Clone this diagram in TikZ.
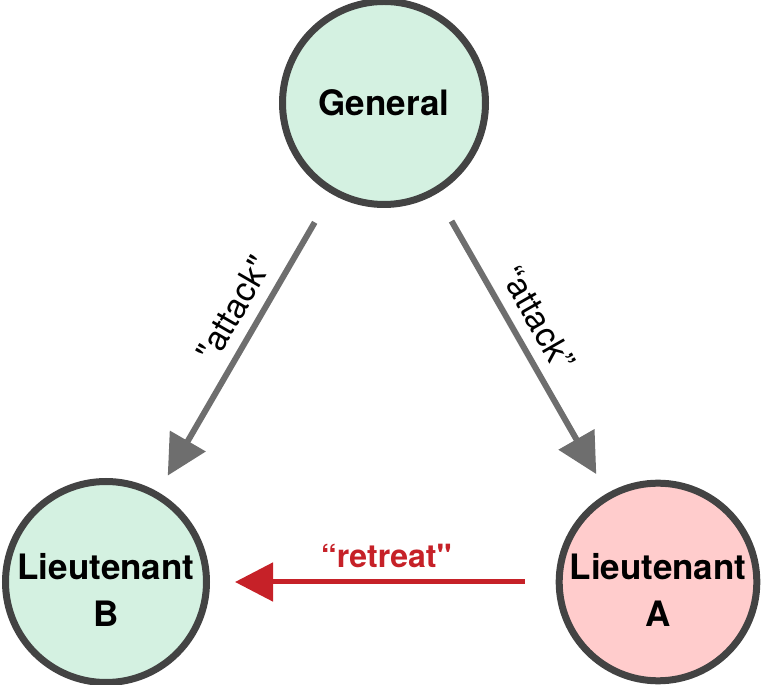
\documentclass[tikz,border=0pt]{standalone}
\usepackage{fontspec}
\setmainfont{TeX Gyre Heros}[Ligatures=TeXOff]
\usetikzlibrary{arrows.meta}

\definecolor{loyalgreen}{HTML}{D4F1E1}
\definecolor{traitorpink}{HTML}{FFCCCC}
\definecolor{ringgray}{HTML}{434343}
\definecolor{ordergray}{HTML}{6E6E6E}
\definecolor{lierred}{HTML}{C62128}

\begin{document}
\begin{tikzpicture}[x=1pt,y=1pt,
  officer/.style={circle,draw=ringgray,line width=7pt,inner sep=0pt,
    align=center,font=\fontsize{35}{47}\selectfont\bfseries},
  order/.style={draw=ordergray,line width=6pt,
    -{Triangle[length=40pt,width=40pt]}},
  lie/.style={draw=lierred,line width=5pt,
    -{Triangle[length=38pt,width=38pt]}},
  msg/.style={font=\fontsize{34}{38}\selectfont}]
  \useasboundingbox (0,0) rectangle (768,685);

  % Generals
  \node[officer,fill=loyalgreen,minimum size=203pt] (gen) at (384,582) {General};
  \node[officer,fill=loyalgreen,minimum size=201pt,text height=90pt] (ltb) at (106,103) {Lieutenant\\B};
  \node[officer,fill=traitorpink,minimum size=197pt,text height=90pt] (lta) at (658,103) {Lieutenant\\A};

  % Orders
  \draw[order,shorten <=33pt,shorten >=19pt] (gen) -- node[msg,sloped,above=8pt,pos=0.43] (msgb) {"attack"} (ltb);
  \draw[order,shorten <=31pt,shorten >=22pt] (gen) -- node[msg,sloped,above=8pt,pos=0.46] (msga) {“attack”} (lta);
  \draw[lie,shorten <=31pt,shorten >=25pt] (lta) -- node[msg,above=8pt,pos=0.49,text=lierred,font=\fontsize{32}{36}\selectfont\bfseries] (msgr) {“retreat"} (ltb);
\end{tikzpicture}
\end{document}
